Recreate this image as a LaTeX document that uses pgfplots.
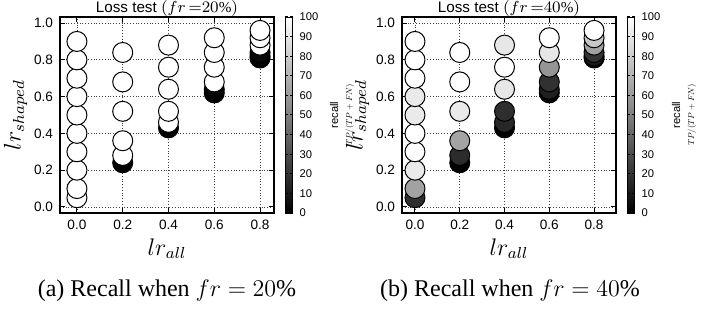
\documentclass[border=0pt]{standalone}
\usepackage{fontspec}
\setmainfont{Liberation Serif}
\setsansfont{Liberation Sans}
\usepackage{pgfplots}
\pgfplotsset{compat=1.18}
\usepackage{pgfplotstable}

% fr = 20%
\pgfplotstableread{
x y c
0.0 0.05 100
0.0 0.10 100
0.0 0.20 100
0.0 0.30 100
0.0 0.40 100
0.0 0.50 100
0.0 0.60 100
0.0 0.70 100
0.0 0.80 100
0.0 0.90 100
0.2 0.24 0
0.2 0.28 100
0.2 0.36 100
0.2 0.52 100
0.2 0.68 100
0.2 0.84 100
0.4 0.43 0
0.4 0.46 100
0.4 0.52 100
0.4 0.64 100
0.4 0.76 100
0.4 0.88 100
0.6 0.62 0
0.6 0.64 2
0.6 0.68 100
0.6 0.76 100
0.6 0.84 100
0.6 0.92 100
0.8 0.81 0
0.8 0.82 0
0.8 0.84 3
0.8 0.88 100
0.8 0.92 100
0.8 0.96 100
}\tableA

% fr = 40%
\pgfplotstableread{
x y c
0.0 0.05 18
0.0 0.10 63
0.0 0.20 91
0.0 0.30 100
0.0 0.40 100
0.0 0.50 91
0.0 0.60 91
0.0 0.70 100
0.0 0.80 100
0.0 0.90 100
0.2 0.24 0
0.2 0.28 17
0.2 0.36 64
0.2 0.52 91
0.2 0.68 100
0.2 0.84 100
0.4 0.43 0
0.4 0.46 15
0.4 0.52 18
0.4 0.64 90
0.4 0.76 100
0.4 0.88 90
0.6 0.62 0
0.6 0.64 12
0.6 0.68 19
0.6 0.76 58
0.6 0.84 90
0.6 0.92 100
0.8 0.81 0
0.8 0.82 10
0.8 0.84 20
0.8 0.88 63
0.8 0.92 78
0.8 0.96 100
}\tableB

\pgfplotsset{
  recallaxis/.style={
    scale only axis, width=107pt, height=98pt,
    ymin=-0.033, ymax=1.033,
    xtick={0,0.2,0.4,0.6,0.8},
    ytick={0,0.2,0.4,0.6,0.8,1.0},
    grid=major,
    grid style={densely dotted, black!75, line width=0.4pt},
    axis line style={line width=0.6pt},
    tick align=inside, major tick length=2.5pt,
    tick style={black, line width=0.5pt},
    /pgf/number format/assume math mode=true,
    xticklabel style={font=\sffamily\fontsize{6.8}{8}\selectfont,
      /pgf/number format/.cd, fixed, fixed zerofill, precision=1},
    yticklabel style={font=\sffamily\fontsize{6.8}{8}\selectfont,
      /pgf/number format/.cd, fixed, fixed zerofill, precision=1},
    xlabel={$lr_{all}$},
    ylabel={$lr_{shaped}$},
    xlabel style={font=\fontsize{12}{14}\selectfont},
    ylabel style={font=\fontsize{12}{14}\selectfont},
    xlabel shift=-2.5pt,
    ylabel shift=-3.5pt,
    every axis title/.style={at={(0.5,1)}, anchor=base, yshift=2pt,
      font=\sffamily\fontsize{7.6}{9}\selectfont},
    colormap/blackwhite,
    point meta min=0, point meta max=100,
    colorbar,
    colorbar style={
      at={(parent axis.north east)}, anchor=north west, xshift=-3pt,
      width=3.8pt,
      ytick={0,10,20,30,40,50,60,70,80,90,100},
      /pgf/number format/assume math mode=true,
      yticklabel style={font=\sffamily\fontsize{5.6}{6}\selectfont},
      major tick length=1.5pt,
      axis line style={line width=0.4pt},
      ylabel={recall\\\scalebox{0.43}{\fontsize{10}{12}\selectfont$TP/(TP+FN)$}},
      ylabel style={align=center, font=\sffamily\fontsize{5.6}{7}\selectfont,
        at={(axis description cs:0,0.5)}, anchor=center,
        yshift=-28.5pt},
    },
  },
  recallplot/.style={scatter, only marks, mark=*, mark size=5pt,
    scatter src=explicit,
    scatter/use mapped color={draw=black, fill=mapped color},
    mark options={line width=0.5pt}},
}

\begin{document}
\begin{tikzpicture}
\useasboundingbox (0,0) rectangle (354.5pt,154.5pt);

\begin{axis}[recallaxis, at={(30pt,48pt)}, anchor=south west,
  xmin=-0.074, xmax=0.861,
  title={Loss test $(fr\,{=}20\%)$}]
\addplot[recallplot] table[x=x, y=y, meta=c] {\tableA};
\end{axis}

\begin{axis}[recallaxis, at={(201pt,48pt)}, anchor=south west,
  xmin=-0.058, xmax=0.898,
  title={Loss test $(fr\,{=}40\%)$}]
\addplot[recallplot] table[x=x, y=y, meta=c] {\tableB};
\end{axis}

\node[anchor=base, font=\fontsize{12}{14}\selectfont] at (83.5pt,6pt) {(a) Recall when $fr = 20\%$};
\node[anchor=base, font=\fontsize{12}{14}\selectfont] at (255pt,6pt) {(b) Recall when $fr = 40\%$};
\end{tikzpicture}
\end{document}
